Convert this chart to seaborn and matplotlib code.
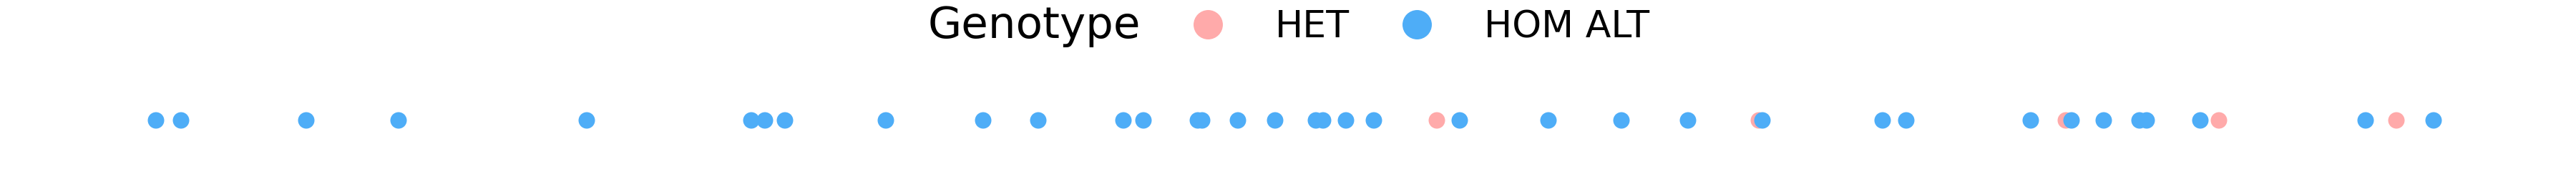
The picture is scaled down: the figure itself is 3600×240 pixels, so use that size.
import matplotlib
matplotlib.use("Agg")
import matplotlib.pyplot as plt
import seaborn as sns
import pandas as pd
from matplotlib.lines import Line2D

# Data (positions along the track)
het_positions = [2008, 2458, 2887, 3101, 3349]
hom_alt_positions = [218, 253, 428, 557, 820, 1050, 1069, 1097, 1238, 1374,
                     1451, 1570, 1598, 1674, 1680, 1730, 1782, 1839, 1849, 1881,
                     1920, 2040, 2164, 2266, 2359, 2463, 2631, 2664, 2838, 2895,
                     2940, 2990, 3000, 3075, 3306, 3401]
genotypes = ["HET", "HOM ALT"]
colors = {"HET": "#FFAAAA", "HOM ALT": "#4EADF7"}

df = pd.DataFrame({
    "position": het_positions + hom_alt_positions,
    "track": [0] * (len(het_positions) + len(hom_alt_positions)),
    "Genotype": ["HET"] * len(het_positions) + ["HOM ALT"] * len(hom_alt_positions),
})

sns.set_style("white")
plt.rcParams["font.family"] = ["DejaVu Sans"]
plt.rcParams["text.color"] = "black"

fig = plt.figure(figsize=(36, 2.4), dpi=100)
ax = fig.add_axes([0, 0, 1, 1])
sns.scatterplot(data=df, x="position", y="track", hue="Genotype",
                hue_order=genotypes, palette=colors, s=274, linewidth=0,
                edgecolor="none", legend=False, ax=ax)
ax.set_xlim(0, 3600)
ax.set_ylim(-0.3, 0.7)
ax.set_axis_off()

handles = [Line2D([], [], linestyle="none", marker=None)]
labels = ["Genotype"]
for g in genotypes:
    handles.append(Line2D([], [], linestyle="none", marker="o", markersize=29.5,
                          markerfacecolor=colors[g], markeredgewidth=0))
    labels.append(g)

leg = fig.legend(handles, labels, loc="center", bbox_to_anchor=(0.48, 0.85),
                 ncol=3, frameon=False, fontsize=37.5, handlelength=2.0,
                 handletextpad=0.8, columnspacing=0.8, borderpad=0,
                 labelcolor="black")
leg.get_texts()[0].set_fontsize(44)

fig.savefig("out.png", dpi=100)
